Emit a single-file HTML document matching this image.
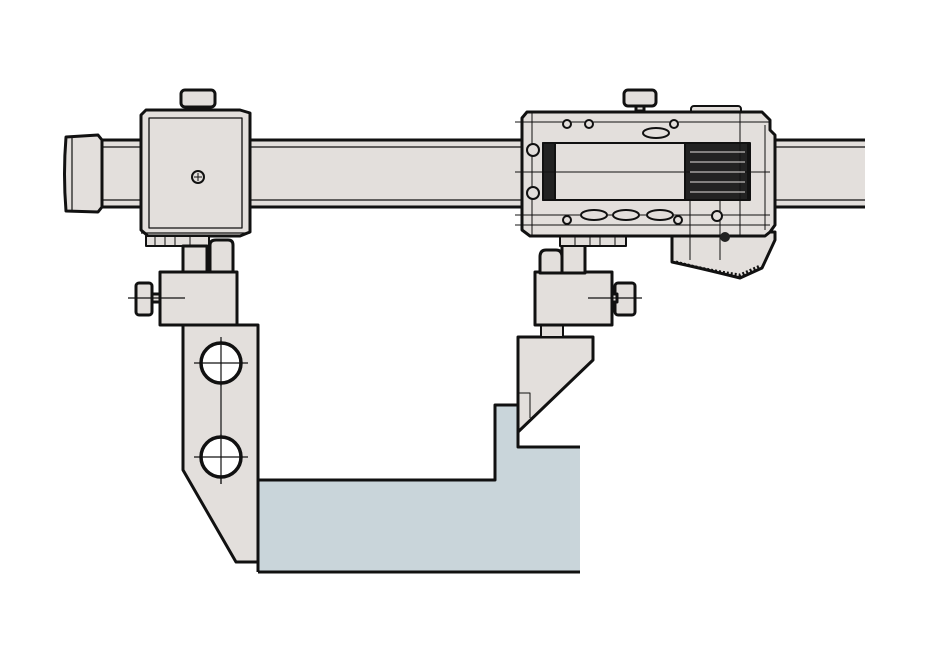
<!DOCTYPE html>
<html><head><meta charset="utf-8"><style>html,body{margin:0;padding:0;background:#fff}svg{display:block}</style></head>
<body>
<svg width="950" height="650" viewBox="0 0 950 650" xmlns="http://www.w3.org/2000/svg">
<g stroke="#111" stroke-width="3" fill="#e3dfdc" stroke-linejoin="round">
<!-- beam -->
<rect x="95" y="140" width="770" height="67" stroke="none"/>
<line x1="95" y1="140" x2="865" y2="140"/>
<line x1="95" y1="207" x2="865" y2="207"/>
<line x1="95" y1="147" x2="865" y2="147" stroke-width="1.2"/>
<line x1="95" y1="200" x2="865" y2="200" stroke-width="1.2"/>
<!-- end cap -->
<path d="M66,137 L98,135 L102,140 L102,207 L98,212 L66,211 Q63,174 66,137 Z"/>
<line x1="72" y1="138" x2="72" y2="210" stroke-width="1.2"/>
<!-- left slider knob -->
<rect x="181" y="90" width="34" height="17" rx="4"/>
<rect x="194" y="107" width="8" height="5"/>
<!-- left slider -->
<path d="M146,110 L240,110 L250,113 L250,232 L240,236 L148,236 L141,230 L141,115 Z"/>
<rect x="149" y="118" width="93" height="110" fill="none" stroke-width="1.3"/>
<line x1="141" y1="233" x2="250" y2="233" stroke-width="1.2"/>
<circle cx="198" cy="177" r="6" stroke-width="2"/>
<line x1="194" y1="177" x2="202" y2="177" stroke-width="1"/><line x1="198" y1="173" x2="198" y2="181" stroke-width="1"/>
<!-- left bracket -->
<rect x="146" y="236" width="63" height="10" stroke-width="2"/>
<line x1="155" y1="236" x2="155" y2="246" stroke-width="1"/><line x1="165" y1="236" x2="165" y2="246" stroke-width="1"/><line x1="175" y1="236" x2="175" y2="246" stroke-width="1"/><line x1="190" y1="236" x2="190" y2="246" stroke-width="1"/>
<rect x="183" y="246" width="24" height="27"/>
<path d="M210,273 L210,245 Q210,240 216,240 L228,240 Q233,240 233,245 L233,273 Z"/>
<rect x="160" y="272" width="77" height="53"/>
<rect x="136" y="283" width="16" height="32" rx="3"/>
<rect x="152" y="294" width="8" height="8"/>
<line x1="128" y1="298" x2="185" y2="298" stroke-width="1.2"/>
<!-- left jaw -->
<path d="M183,325 L258,325 L258,562 L236,562 L183,470 Z"/>
<line x1="221" y1="337" x2="221" y2="484" stroke-width="1.2"/>
<circle cx="221" cy="363" r="20" fill="#fff" stroke-width="3.5"/>
<circle cx="221" cy="457" r="20" fill="#fff" stroke-width="3.5"/>
<line x1="194" y1="363" x2="248" y2="363" stroke-width="1.2"/><line x1="221" y1="340" x2="221" y2="386" stroke-width="1.2"/>
<line x1="194" y1="457" x2="248" y2="457" stroke-width="1.2"/><line x1="221" y1="434" x2="221" y2="484" stroke-width="1.2"/>
<!-- workpiece -->
<path d="M258,480 L495,480 L495,405 L518,405 L518,447 L580,447 L580,572 L258,572 Z" fill="#c9d5da" stroke="none"/>
<path d="M258,480 L495,480 L495,405 L518,405" fill="none"/>
<path d="M518,432 L518,447 L580,447" fill="none"/>
<line x1="258" y1="572" x2="580" y2="572"/>
<line x1="258" y1="480" x2="258" y2="572"/>
<!-- right jaw -->
<path d="M518,337 L593,337 L593,360 L518,432 Z"/>
<path d="M518,393 L530,393 L530,418" fill="none" stroke-width="1"/>
<!-- right bracket -->
<rect x="541" y="325" width="22" height="12" stroke-width="2"/>
<rect x="535" y="272" width="77" height="53"/>
<rect x="615" y="283" width="20" height="32" rx="3"/>
<rect x="612" y="294" width="5" height="8"/>
<line x1="588" y1="298" x2="642" y2="298" stroke-width="1.2"/>
<path d="M540,273 L540,257 Q540,250 546,250 L556,250 Q562,250 562,257 L562,273 Z"/>
<rect x="562" y="238" width="23" height="35"/>
<rect x="560" y="230" width="66" height="16" stroke-width="2"/>
<line x1="575" y1="225" x2="575" y2="246" stroke-width="1"/><line x1="590" y1="225" x2="590" y2="246" stroke-width="1"/><line x1="600" y1="225" x2="600" y2="246" stroke-width="1"/><line x1="615" y1="225" x2="615" y2="246" stroke-width="1"/>
<!-- right knob -->
<rect x="624" y="90" width="32" height="16" rx="4"/>
<rect x="636" y="106" width="8" height="5"/>
<rect x="691" y="106" width="50" height="8" rx="3" stroke-width="2"/>
<!-- gear bottom -->
<path d="M672,232 L672,262 Q700,268 740,278 L762,268 L775,240 L775,232 Z"/>
<path d="M676,262 Q705,270 740,275 L760,266" fill="none" stroke-width="3" stroke-dasharray="2 2"/>
<!-- right slider -->
<path d="M527,112 L762,112 L770,120 L770,130 L775,135 L775,225 L770,232 L765,236 L530,236 L522,230 L522,118 Z"/>
<rect x="543" y="143" width="207" height="57" stroke-width="2"/>
<rect x="685" y="143" width="63" height="57" fill="#222" stroke-width="2"/>
<rect x="543" y="143" width="12" height="57" fill="#222" stroke-width="2"/>
<g stroke-width="1" fill="none">
<line x1="515" y1="122" x2="770" y2="122"/>
<line x1="515" y1="215" x2="770" y2="215"/>
<line x1="515" y1="225" x2="770" y2="225"/>
<line x1="515" y1="172" x2="770" y2="172"/>
<line x1="532" y1="112" x2="532" y2="236"/>
<line x1="740" y1="112" x2="740" y2="236"/>
<line x1="765" y1="125" x2="765" y2="230"/>
<line x1="690" y1="200" x2="690" y2="260"/>
<line x1="720" y1="200" x2="720" y2="260"/>
</g>
<g stroke-width="2">
<circle cx="533" cy="150" r="6"/><circle cx="533" cy="193" r="6"/>
<circle cx="567" cy="124" r="4"/><circle cx="589" cy="124" r="4"/><circle cx="674" cy="124" r="4"/>
<circle cx="567" cy="220" r="4"/><circle cx="678" cy="220" r="4"/>
<ellipse cx="656" cy="133" rx="13" ry="5"/>
<ellipse cx="594" cy="215" rx="13" ry="5"/><ellipse cx="626" cy="215" rx="13" ry="5"/><ellipse cx="660" cy="215" rx="13" ry="5"/>
<circle cx="717" cy="216" r="5"/>
</g>
<circle cx="725" cy="237" r="5" fill="#222" stroke="none"/>
</g>
<g stroke="#e3dfdc" stroke-width="1">
<line x1="690" y1="152" x2="745" y2="152"/><line x1="690" y1="162" x2="745" y2="162"/><line x1="690" y1="172" x2="745" y2="172"/><line x1="690" y1="182" x2="745" y2="182"/><line x1="690" y1="192" x2="745" y2="192"/>
</g>
</svg>
</body></html>
